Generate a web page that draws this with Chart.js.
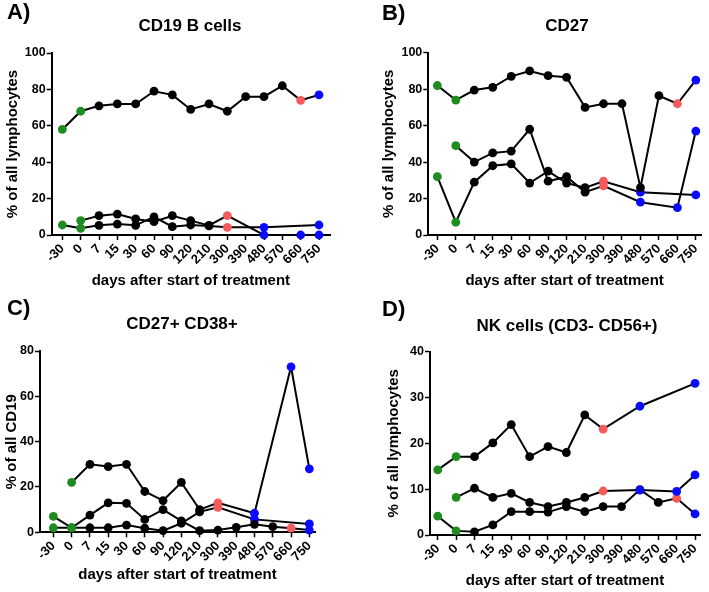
<!DOCTYPE html>
<html>
<head>
<meta charset="utf-8">
<script src="https://cdn.jsdelivr.net/npm/chart.js@4.4.1/dist/chart.umd.min.js"></script>
<style>
    body { margin: 0; background: #fff; }
    #wrap { position: relative; width: 709px; height: 592px; }
    canvas { position: absolute; }
</style>
</head>
<body>
<div id="wrap">
    <canvas id="panelA" width="354" height="296" style="left:0;top:0"></canvas>
    <canvas id="panelB" width="355" height="296" style="left:354px;top:0"></canvas>
    <canvas id="panelC" width="354" height="296" style="left:0;top:296px"></canvas>
    <canvas id="panelD" width="355" height="296" style="left:354px;top:296px"></canvas>
</div>
<script>
// days after start of treatment (x categories)
const days = ["-30", "0", "7", "15", "30", "60", "90", "120", "210", "300", "390", "480", "570", "660", "750"];

// phase of each point: G = baseline, K = on treatment, R = red, B = blue
// A) CD19 B cells
const cd19Pat1 = [58, 68, 71, 72, 72, 79, 77, 69, 72, 68, 76, 76, 82, 74, 77];
const cd19Pat1Phase = ["G","G","K","K","K","K","K","K","K","K","K","K","K","R","B"];
const cd19Pat2 = [5.5, 3.7, 5.3, 6, 5.3, 10, 4.6, 5.5, 5, 4.2, null, 4.2, null, null, 5.5];
const cd19Pat2Phase = ["G","G","K","K","K","K","K","K","K","R","","B","","","B"];
const cd19Pat3 = [null, 7.9, 10.6, 11.5, 8.8, 7.3, 10.6, 7.9, 5.3, 10.6, null, 0, null, 0, 0];
const cd19Pat3Phase = ["","G","K","K","K","K","K","K","K","R","","B","","B","B"];

// B) CD27
const cd27Pat1 = [82, 74, 79.5, 81, 87, 90, 87.4, 86.5, 70, 72, 72, 26, 76.4, 72, 85];
const cd27Pat1Phase = ["G","G","K","K","K","K","K","K","K","K","K","K","K","R","B"];
const cd27Pat2 = [null, 49, 40, 45, 46, 58, 29.5, 32, 23.5, 27, null, 18, null, 15, 57];
const cd27Pat2Phase = ["","G","K","K","K","K","K","K","K","R","","B","","B","B"];
const cd27Pat3 = [32, 7, 29, 38, 39, 28.5, 35, 28.5, 26, 29.5, null, 23.5, null, null, 22];
const cd27Pat3Phase = ["G","G","K","K","K","K","K","K","K","R","","B","","","B"];

// C) CD27+ CD38+
const plasmaPat1 = [null, 22, 30, 29, 30, 18, 14, 22, 10, 13, null, 8.4, null, 73, 28];
const plasmaPat1Phase = ["","G","K","K","K","K","K","K","K","R","","B","","B","B"];
const plasmaPat2 = [7, 2, 7.6, 13, 12.8, 5.7, 10, 5, 0.7, 1, 2.2, 3.5, 2.5, 1.8, 1];
const plasmaPat2Phase = ["G","G","K","K","K","K","K","K","K","K","K","K","K","R","B"];
const plasmaPat3 = [2, 2, 2, 2, 3.2, 1.8, 0.7, 4, 9, 11, null, 5.7, null, null, 3.7];
const plasmaPat3Phase = ["G","G","K","K","K","K","K","K","K","R","","B","","","B"];

// D) NK cells (CD3- CD56+)
const nkPat1 = [14.2, 17.1, 17.1, 20.1, 24.1, 17.1, 19.3, 18, 26.2, 23.1, null, 28.1, null, null, 33.1];
const nkPat1Phase = ["G","G","K","K","K","K","K","K","K","R","","B","","","B"];
const nkPat2 = [null, 8.2, 10.2, 8.2, 9.1, 7.1, 6.2, 7.1, 8.2, 9.6, null, 9.8, null, 9.5, 13.1];
const nkPat2Phase = ["","G","K","K","K","K","K","K","K","R","","B","","B","B"];
const nkPat3 = [4.1, 0.9, 0.7, 2.2, 5.1, 5.1, 5, 6.2, 5.1, 6.2, 6.2, 9.9, 7.1, 8, 4.6];
const nkPat3Phase = ["G","G","K","K","K","K","K","K","K","K","K","K","K","R","B"];

const phaseColors = { G: "#1f8c1f", K: "#000000", R: "#f65a5a", B: "#0a0aff", "": "#000000" };
const FONT = '"Liberation Sans", Arial, sans-serif';

const panelText = {
    id: "panelText",
    afterDraw(chart, args, opts) {
        const ctx = chart.ctx;
        ctx.save();
        ctx.fillStyle = "#000";
        ctx.textBaseline = "middle";
        ctx.textAlign = "left";
        ctx.font = "bold 22px " + FONT;
        ctx.fillText(opts.letter, opts.letterX, opts.letterY);
        ctx.textAlign = "center";
        ctx.font = "bold 17px " + FONT;
        ctx.fillText(opts.title, opts.titleX, opts.titleY);
        ctx.restore();
    }
};

function makeDataset(values, phases) {
    return {
        data: values.map((v, i) => ({ x: i, y: v })),
        borderColor: "#000",
        borderWidth: 2,
        pointRadius: 4.4,
        pointHoverRadius: 4.4,
        pointBorderWidth: 0,
        pointBackgroundColor: phases.map(p => phaseColors[p]),
        spanGaps: true,
        tension: 0,
        clip: false
    };
}

function drawPanel(id, series, p) {
    new Chart(document.getElementById(id), {
        type: "line",
        data: { datasets: series.map(s => makeDataset(s[0], s[1])) },
        options: {
            responsive: false,
            animation: false,
            events: [],
            layout: { padding: { left: 0, top: p.top, right: p.padRight, bottom: 0 } },
            plugins: {
                legend: { display: false },
                tooltip: { enabled: false },
                panelText: p.text
            },
            scales: {
                x: {
                    type: "linear",
                    min: p.xMin,
                    max: p.xMax,
                    afterBuildTicks: scale => {
                        scale.ticks = days.map((d, i) => ({ value: i }));
                    },
                    afterFit: scale => { scale.height = p.xHeight; },
                    border: { color: "#000", width: 2 },
                    grid: { drawOnChartArea: false, tickLength: 5, tickColor: "#000", tickWidth: 1.5 },
                    ticks: {
                        autoSkip: false,
                        minRotation: 45,
                        maxRotation: 45,
                        padding: 1,
                        color: "#000",
                        font: { family: FONT, size: 13, weight: "bold" },
                        callback: v => days[v]
                    },
                    title: {
                        display: true,
                        text: "days after start of treatment",
                        color: "#000",
                        font: { family: FONT, size: 15, weight: "bold" },
                        padding: { top: 0, bottom: p.xTitlePad }
                    }
                },
                y: {
                    min: 0,
                    max: p.yMax,
                    afterFit: scale => { scale.width = p.yWidth; },
                    border: { color: "#000", width: 2 },
                    grid: { drawOnChartArea: false, tickLength: 5, tickColor: "#000", tickWidth: 1.5 },
                    ticks: {
                        stepSize: p.yStep,
                        padding: 1,
                        color: "#000",
                        font: { family: FONT, size: 12.5, weight: "bold" }
                    },
                    title: {
                        display: true,
                        text: p.yTitle,
                        color: "#000",
                        font: { family: FONT, size: 15, weight: "bold" },
                        padding: { top: p.yTitlePad, bottom: 0 }
                    }
                }
            }
        },
        plugins: [panelText]
    });
}

drawPanel("panelA", [[cd19Pat1, cd19Pat1Phase], [cd19Pat2, cd19Pat2Phase], [cd19Pat3, cd19Pat3Phase]], {
    top: 53, padRight: 24, xHeight: 61, yWidth: 51.7, xMin: -0.58, xMax: 14.6,
    yMax: 100, yStep: 20, yTitle: "% of all lymphocytes", yTitlePad: 3.5, xTitlePad: 6,
    text: { letter: "A)", letterX: 7, letterY: 13, title: "CD19 B cells", titleX: 190, titleY: 26 }
});

drawPanel("panelB", [[cd27Pat1, cd27Pat1Phase], [cd27Pat2, cd27Pat2Phase], [cd27Pat3, cd27Pat3Phase]], {
    top: 52.7, padRight: 8, xHeight: 61, yWidth: 74.3, xMin: -0.49, xMax: 14.28,
    yMax: 100, yStep: 20, yTitle: "% of all lymphocytes", yTitlePad: 25.5, xTitlePad: 6,
    text: { letter: "B)", letterX: 28, letterY: 13.5, title: "CD27", titleX: 213, titleY: 26 }
});

drawPanel("panelC", [[plasmaPat1, plasmaPat1Phase], [plasmaPat2, plasmaPat2Phase], [plasmaPat3, plasmaPat3Phase]], {
    top: 55, padRight: 39, xHeight: 59.7, yWidth: 40, xMin: -0.73, xMax: 14.31,
    yMax: 80, yStep: 20, yTitle: "% of all CD19", yTitlePad: 3, xTitlePad: 8,
    text: { letter: "C)", letterX: 7, letterY: 13, title: "CD27+ CD38+", titleX: 182, titleY: 28 }
});

drawPanel("panelD", [[nkPat1, nkPat1Phase], [nkPat2, nkPat2Phase], [nkPat3, nkPat3Phase]], {
    top: 55.7, padRight: 9, xHeight: 57, yWidth: 76, xMin: -0.42, xMax: 14.27,
    yMax: 40, yStep: 10, yTitle: "% of all lymphocytes", yTitlePad: 30.5, xTitlePad: 2.5,
    text: { letter: "D)", letterX: 28, letterY: 14, title: "NK cells (CD3- CD56+)", titleX: 213, titleY: 30 }
});
</script>
</body>
</html>
